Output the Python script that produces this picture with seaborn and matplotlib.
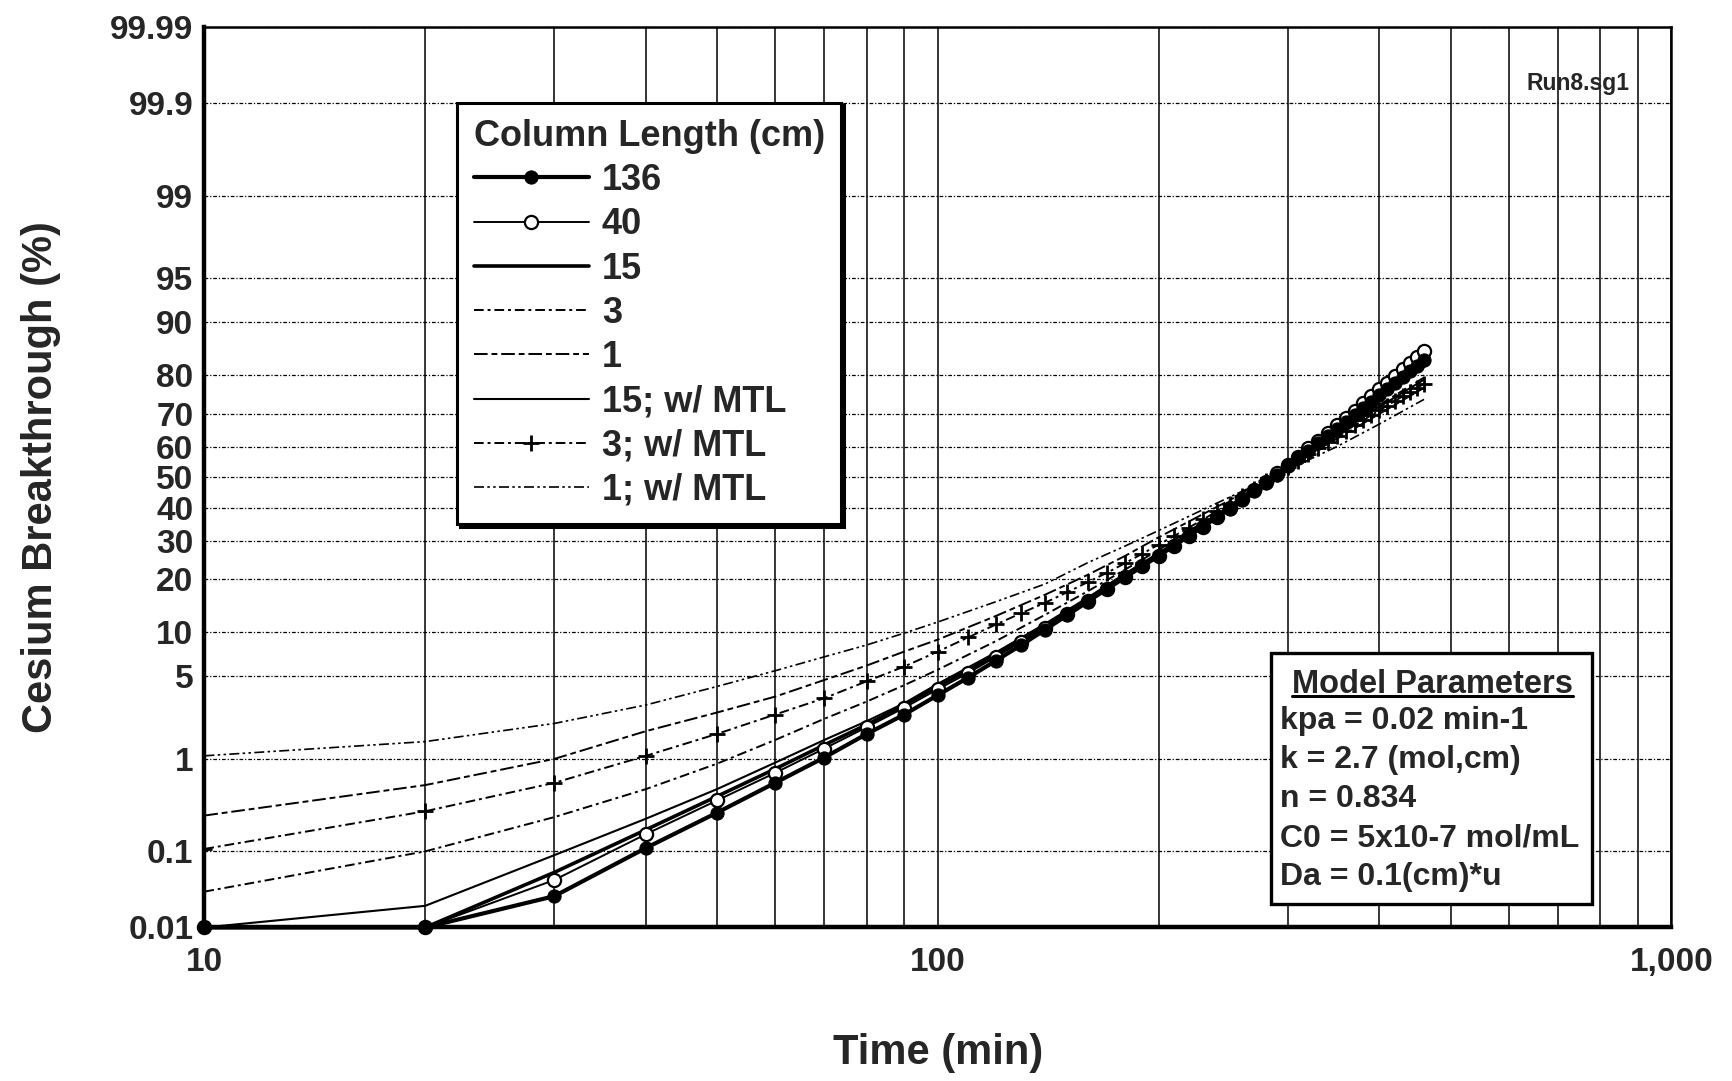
import math
import numpy as np
import matplotlib
matplotlib.use("Agg")
import matplotlib.pyplot as plt
import seaborn as sns
from matplotlib.ticker import FixedLocator, FixedFormatter, FuncFormatter, NullFormatter
from matplotlib.patches import Rectangle

# ---- data: time (min) vs cesium breakthrough (%) ----
time_full = [10, 20, 30, 40, 50, 60, 70, 80, 90, 100,
             110, 120, 130, 140, 150, 160, 170, 180, 190, 200,
             210, 220, 230, 240, 250, 260, 270, 280, 290, 300,
             310, 320, 330, 340, 350, 360, 370, 380, 390, 400,
             410, 420, 430, 440, 450, 460]
time_sparse = [10, 20, 30, 40, 50, 60, 70, 80, 90, 100,
               120, 140, 160, 180, 200, 250, 300, 350, 400, 460]

cs_136 = [0.01, 0.01, 0.027, 0.11, 0.28, 0.58, 1.03, 1.7, 2.5, 3.6,
          4.9, 6.5, 8.3, 10.4, 12.7, 15.2, 17.8, 20.4, 23.1, 25.8,
          28.6, 31.4, 34.2, 37.0, 39.8, 42.6, 45.4, 48.2, 50.9, 53.6,
          56.2, 58.7, 61.1, 63.4, 65.6, 67.7, 69.7, 71.6, 73.4, 75.1,
          76.7, 78.2, 79.6, 80.9, 82.2, 83.4]
cs_40 = [0.01, 0.01, 0.044, 0.16, 0.38, 0.73, 1.25, 1.95, 2.85, 4.0,
         5.3, 6.9, 8.7, 10.7, 13.0, 15.4, 17.9, 20.5, 23.1, 25.8,
         28.6, 31.4, 34.2, 37.0, 39.9, 42.8, 45.7, 48.5, 51.3, 54.1,
         56.8, 59.4, 61.9, 64.3, 66.6, 68.8, 70.9, 72.9, 74.8, 76.6,
         78.3, 79.9, 81.4, 82.8, 84.0, 85.1]
cs_3_mtl = [0.107, 0.29, 0.58, 1.07, 1.7, 2.5, 3.4, 4.6, 5.9, 7.5,
            9.3, 11.2, 13.1, 15.0, 17.1, 19.3, 21.5, 23.9, 26.4, 28.9,
            31.4, 33.9, 36.4, 38.9, 41.4, 43.9, 46.3, 48.7, 51.0, 53.3,
            55.5, 57.6, 59.6, 61.5, 63.3, 65.0, 66.6, 68.1, 69.6, 71.0,
            72.3, 73.6, 74.8, 75.9, 77.0, 78.0]

cs_15 = [0.01, 0.01, 0.055, 0.18, 0.42, 0.8, 1.35, 2.05, 3.0, 4.2,
         7.1, 10.9, 15.6, 20.8, 26.1, 40.0, 54.0, 66.0, 75.0, 82.0]
cs_3 = [0.031, 0.1, 0.25, 0.5, 0.9, 1.5, 2.3, 3.2, 4.3, 5.6,
        8.8, 12.8, 17.3, 22.3, 27.4, 40.8, 53.8, 64.5, 72.5, 79.5]
cs_1 = [0.26, 0.55, 1.0, 1.8, 2.6, 3.5, 4.7, 6.0, 7.5, 9.0,
        12.6, 16.6, 21.0, 25.8, 31.0, 42.5, 53.5, 62.5, 70.0, 77.0]
cs_15_mtl = [0.01, 0.02, 0.09, 0.24, 0.5, 0.92, 1.5, 2.2, 3.1, 4.4,
             7.4, 11.3, 16.0, 21.3, 26.6, 40.3, 53.5, 64.0, 72.0, 79.0]
cs_1_mtl = [1.07, 1.45, 2.1, 3.0, 4.2, 5.5, 6.9, 8.3, 9.9, 11.6,
            15.2, 18.9, 24.0, 28.5, 33.0, 43.5, 52.5, 60.0, 67.0, 74.0]

y_major = [0.01, 0.1, 1, 5, 10, 20, 30, 40, 50, 60, 70, 80, 90, 95, 99, 99.9, 99.99]
y_labels = ["0.01", "0.1", "1", "5", "10", "20", "30", "40", "50", "60",
            "70", "80", "90", "95", "99", "99.9", "99.99"]

params = ["kpa = 0.02 min-1", "k = 2.7 (mol,cm)", "n = 0.834",
          "C0 = 5x10-7 mol/mL", "Da = 0.1(cm)*u"]


# ---- normal probability (probit) scale, no scipy needed ----
_a = [-3.969683028665376e+01, 2.209460984245205e+02, -2.759285104469687e+02,
      1.383577518672690e+02, -3.066479806614716e+01, 2.506628277459239e+00]
_b = [-5.447609879822406e+01, 1.615858368580409e+02, -1.556989798598866e+02,
      6.680131188771972e+01, -1.328068155288572e+01]
_c = [-7.784894002430293e-03, -3.223964580411365e-01, -2.400758277161838e+00,
      -2.549671010005773e+00, 4.374664141464968e+00, 2.938163982698783e+00]
_d = [7.784695709041462e-03, 3.224671290700398e-01, 2.445134137142996e+00,
      3.754408661907416e+00]


def _ppf(p):
    p = np.clip(np.asarray(p, dtype=float), 1e-12, 1 - 1e-12)
    plow = 0.02425
    q = p - 0.5
    r = q * q
    central = (((((_a[0] * r + _a[1]) * r + _a[2]) * r + _a[3]) * r + _a[4]) * r + _a[5]) * q / \
              (((((_b[0] * r + _b[1]) * r + _b[2]) * r + _b[3]) * r + _b[4]) * r + 1)
    ql = np.sqrt(-2 * np.log(np.minimum(p, 1 - p)))
    tail = (((((_c[0] * ql + _c[1]) * ql + _c[2]) * ql + _c[3]) * ql + _c[4]) * ql + _c[5]) / \
           ((((_d[0] * ql + _d[1]) * ql + _d[2]) * ql + _d[3]) * ql + 1)
    out = np.where(p < plow, tail, central)
    out = np.where(p > 1 - plow, -tail, out)
    return out


_erf = np.vectorize(math.erf, otypes=[float])


def probit(pct):
    return _ppf(np.asarray(pct, dtype=float) / 100.0)


def inv_probit(z):
    return 50.0 * (1.0 + _erf(np.asarray(z, dtype=float) / math.sqrt(2)))


sns.set_theme(style="white")
plt.rcParams["font.family"] = ["Liberation Sans", "DejaVu Sans"]
plt.rcParams["font.weight"] = "bold"

fig = plt.figure(figsize=(17.32, 10.81), dpi=100)
ax = fig.add_axes([0.118, 0.142, 0.847, 0.833])

ax.set_xscale("log")
ax.set_yscale("function", functions=(probit, inv_probit))

# series in legend order
sns.lineplot(x=time_full, y=cs_136, ax=ax, color="black", lw=3.0, marker="o",
             markersize=9.5, markeredgecolor="black", label="136", zorder=9,
             errorbar=None, clip_on=False)
sns.lineplot(x=time_full, y=cs_40, ax=ax, color="black", lw=1.4, marker="o",
             markersize=9.5, markerfacecolor="white", markeredgecolor="black",
             markeredgewidth=1.6, label="40", zorder=8, errorbar=None, clip_on=False)
sns.lineplot(x=time_sparse, y=cs_15, ax=ax, color="black", lw=2.6, label="15",
             zorder=7, errorbar=None)
sns.lineplot(x=time_sparse, y=cs_3, ax=ax, color="black", lw=1.4,
             linestyle=(0, (5, 2, 1.5, 2)), label="3", zorder=5, errorbar=None)
sns.lineplot(x=time_sparse, y=cs_1, ax=ax, color="black", lw=1.4,
             linestyle=(0, (7, 2, 3, 2)), label="1", zorder=5, errorbar=None)
sns.lineplot(x=time_sparse, y=cs_15_mtl, ax=ax, color="black", lw=1.5,
             label="15; w/ MTL", zorder=6, errorbar=None)
sns.lineplot(x=time_full, y=cs_3_mtl, ax=ax, color="black", lw=1.4,
             linestyle=(0, (5, 2, 1.5, 2)), marker="+", markersize=11,
             markeredgewidth=2.0, markeredgecolor="black", label="3; w/ MTL",
             zorder=6, errorbar=None)
sns.lineplot(x=time_sparse, y=cs_1_mtl, ax=ax, color="black", lw=1.2,
             linestyle=(0, (6, 2, 1.5, 2, 1.5, 2)), label="1; w/ MTL", zorder=5,
             errorbar=None)

ax.set_xlim(10, 1000)
ax.set_ylim(0.01, 99.99)

# axes, ticks and grid
ax.yaxis.set_major_locator(FixedLocator(y_major))
ax.yaxis.set_major_formatter(FixedFormatter(y_labels))
y_minor = np.concatenate([np.arange(0.02, 0.1, 0.01), np.arange(0.2, 1.0, 0.1),
                          np.arange(1.5, 10, 0.5), np.arange(11, 99, 1),
                          np.arange(99.1, 99.9, 0.1), np.arange(99.91, 99.99, 0.01)])
ax.yaxis.set_minor_locator(FixedLocator(y_minor))
ax.yaxis.set_minor_formatter(NullFormatter())
ax.xaxis.set_major_formatter(FuncFormatter(lambda v, _: f"{v:,.0f}"))
ax.xaxis.set_minor_formatter(NullFormatter())

ax.tick_params(axis="y", which="major", direction="in", length=11, width=1.8,
               labelsize=24, pad=8, color="black")
ax.tick_params(axis="y", which="minor", direction="in", length=6, width=1.5, color="black")
ax.tick_params(axis="x", which="both", direction="in", length=9, width=1.8,
               labelsize=24, pad=14, color="black")
for lab in ax.get_xticklabels() + ax.get_yticklabels():
    lab.set_fontweight("bold")

ax.grid(axis="x", which="both", color="black", lw=1.1, ls="-")
ax.grid(axis="y", which="major", color="black", lw=0.9, ls=(0, (3, 1.5, 1, 1.5)))
ax.grid(axis="y", which="minor", visible=False)

for side, w in [("left", 3.2), ("bottom", 3.2), ("top", 1.8), ("right", 1.8)]:
    ax.spines[side].set_color("black")
    ax.spines[side].set_linewidth(w)

ax.set_xlabel("Time (min)", fontsize=30, fontweight="bold", labelpad=40)
ax.set_ylabel("Cesium Breakthrough (%)", fontsize=30, fontweight="bold")
ax.yaxis.set_label_coords(-0.098, 0.5)

leg = ax.legend(loc="upper left", bbox_to_anchor=(0.1725, 0.916), borderaxespad=0,
                title="Column Length (cm)", frameon=True, fancybox=False,
                edgecolor="black", framealpha=1, handlelength=3.2,
                handletextpad=0.35, labelspacing=0.255, borderpad=0.45,
                numpoints=1, prop=dict(weight="bold", size=26),
                title_fontproperties=dict(weight="bold", size=26),
                alignment="left", shadow={"color": "black", "alpha": 1})
leg.get_frame().set_linewidth(2.2)
leg.set_zorder(20)

# model parameters box
ax.add_patch(Rectangle((0.727, 0.026), 0.219, 0.279, transform=ax.transAxes,
                       facecolor="white", edgecolor="black", lw=2.4, zorder=15))
title_txt = ax.text(0.837, 0.270, "Model Parameters", transform=ax.transAxes,
                    ha="center", va="center", fontsize=23.5, fontweight="bold", zorder=16)
for i, line in enumerate(params):
    ax.text(0.733, 0.229 - i * 0.0433, line, transform=ax.transAxes, ha="left",
            va="center", fontsize=23, fontweight="bold", zorder=16)

ax.text(0.901, 0.937, "Run8.sg1", transform=ax.transAxes, ha="left", va="center",
        fontsize=16.5, fontweight="bold", zorder=16)

fig.canvas.draw()
bb = title_txt.get_window_extent().transformed(ax.transAxes.inverted())
ax.plot([bb.x0, bb.x1], [bb.y0 + 0.004] * 2, transform=ax.transAxes, color="black",
        lw=2.2, clip_on=False, zorder=17)

fig.savefig("out.png", dpi=100)
